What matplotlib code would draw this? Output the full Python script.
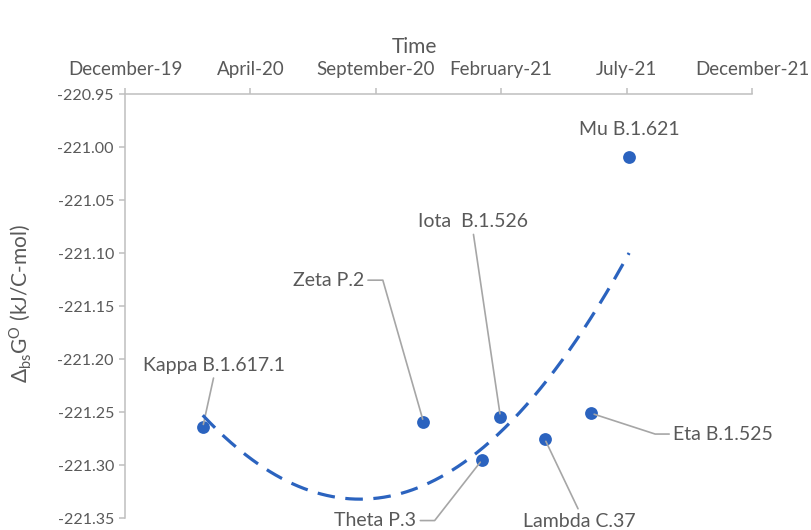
import numpy as np
import matplotlib
matplotlib.use("Agg")
import matplotlib.pyplot as plt
import matplotlib.dates as mdates
import matplotlib.ticker as mticker

plt.rcParams['font.family'] = ['Lato', 'DejaVu Sans']
plt.rcParams['mathtext.fontset'] = 'custom'
plt.rcParams['mathtext.rm'] = 'Lato'
plt.rcParams['mathtext.it'] = 'Lato:italic'

# ---- data ----
variants = ["Kappa B.1.617.1", "Zeta P.2", "Theta P.3", "Iota  B.1.526",
            "Lambda C.37", "Eta B.1.525", "Mu B.1.621"]
dates = ["2020-03-03", "2020-11-22", "2021-01-31", "2021-02-22",
         "2021-04-16", "2021-06-11", "2021-07-26"]
dG = [-221.264, -221.259, -221.295, -221.254, -221.275, -221.251, -221.009]

axis_start = "2019-12-01"
tick_step_days = 150
n_ticks = 6
y_min, y_max, y_step = -221.35, -220.95, 0.05

# ---- style ----
dot_color = "#2B63BF"
grey_axis = "#BFBFBF"
text_grey = "#595959"
leader_grey = "#A6A6A6"

fig = plt.figure(figsize=(8.11, 5.30), dpi=100)
ax = fig.add_axes([125/811, 1-518.3/530, (752-125)/811, (518.3-94.3)/530])

x0 = mdates.date2num(np.datetime64(axis_start))
xd = mdates.date2num(np.array(dates, dtype="datetime64[D]"))
yv = np.array(dG)

ax.scatter(xd, yv, s=85, color=dot_color, zorder=3, linewidths=0)

# polynomial (order 2) trendline
coef = np.polyfit(xd - x0, yv, 2)
xt = np.linspace(xd.min(), xd.max(), 300)
ax.plot(xt, np.polyval(coef, xt - x0), color=dot_color, lw=2.3,
        linestyle=(0, (5.5, 3.3)), zorder=4, solid_capstyle='butt')

ax.set_xlim(x0, x0 + tick_step_days * (n_ticks - 1))
ax.set_ylim(y_min, y_max)
ax.set_xticks([x0 + tick_step_days * k for k in range(n_ticks)])
ax.xaxis.set_major_formatter(mdates.DateFormatter('%B-%y'))
ax.set_yticks(np.arange(y_min, y_max + 1e-9, y_step))
ax.yaxis.set_major_formatter(mticker.FormatStrFormatter('%.2f'))

ax.xaxis.tick_top()
for s in ['right', 'bottom']:
    ax.spines[s].set_visible(False)
for s in ['left', 'top']:
    ax.spines[s].set_color(grey_axis)
    ax.spines[s].set_linewidth(1.1)
ax.tick_params(axis='both', colors=grey_axis, labelcolor=text_grey,
               length=4, width=1.1, direction='out')
ax.tick_params(axis='x', pad=8, labelsize=13.5)
ax.tick_params(axis='y', pad=4, labelsize=11.5)

fig.text(414/811, 1-47/530, "Time", ha='center', va='center',
         fontsize=15, color=text_grey)
fig.text(20/811, 1-303/530, r"$\Delta_{\mathrm{bs}}\mathrm{G}^{\mathrm{O}}$ (kJ/C-mol)",
         rotation=90, ha='center', va='center', fontsize=15, color=text_grey)

# label offsets (points), relpos, connection style
label_cfg = {
    "Kappa B.1.617.1": dict(off=(8.4, 44.4), rel=(0.5, 0.0), conn="arc3"),
    "Zeta P.2": dict(off=(-68.6, 102), rel=(1.0, 0.5), conn="angle,angleA=0,angleB=106,rad=0"),
    "Theta P.3": dict(off=(-76.9, -43.6), rel=(1.0, 0.5), conn="angle,angleA=0,angleB=52,rad=0"),
    "Iota  B.1.526": dict(off=(-19.8, 140.2), rel=(0.5, 0.0), conn="arc3"),
    "Lambda C.37": dict(off=(25.3, -59.2), rel=(0.5, 1.0), conn="arc3"),
    "Eta B.1.525": dict(off=(94.9, -14.9), rel=(0.0, 0.5), conn="angle,angleA=0,angleB=-18,rad=0"),
    "Mu B.1.621": dict(off=(0, 19.4), rel=None, conn=None),
}

for name, x, y in zip(variants, xd, yv):
    cfg = label_cfg[name]
    kw = {}
    if cfg["conn"] is not None:
        kw["arrowprops"] = dict(arrowstyle='-', color=leader_grey, lw=1.2,
                                relpos=cfg["rel"], connectionstyle=cfg["conn"],
                                shrinkA=3, shrinkB=2, patchA=None)
    ax.annotate(name, xy=(x, y), xytext=cfg["off"], textcoords='offset points',
                ha='center', va='center', fontsize=14, color=text_grey,
                annotation_clip=False, **kw)

fig.savefig("out.png", dpi=100)
